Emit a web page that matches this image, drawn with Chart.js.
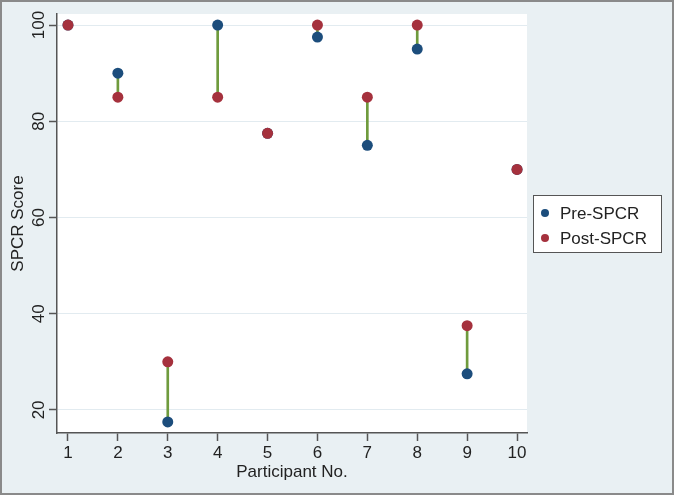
<!DOCTYPE html>
<html>
<head>
<meta charset="utf-8">
<script src="https://cdn.jsdelivr.net/npm/chart.js@4"></script>
<style>
  html, body { margin: 0; padding: 0; background: #e9f0f3; }
  #wrap { width: 674px; height: 495px; }
</style>
</head>
<body>
<div id="wrap"><canvas id="chSpcr" width="674" height="495"></canvas></div>
<script>
// data
var participants = [1, 2, 3, 4, 5, 6, 7, 8, 9, 10];
var preScores  = [100, 90, 17.5, 100, 77.5, 97.5, 75, 95, 27.5, 70];
var postScores = [100, 85, 30, 85, 77.5, 100, 85, 100, 37.5, 70];
var xTicks = [1, 2, 3, 4, 5, 6, 7, 8, 9, 10];
var yTicks = [20, 40, 60, 80, 100];

var colors = { pre: '#1c4d7c', post: '#a5313d', link: '#6f9b3d', text: '#222222', axis: '#555555' };
var fontFam = "'Liberation Sans', Arial, sans-serif";

// background, white plot region, outer frame
var frame = {
  id: 'frame',
  beforeDraw: function (chart) {
    var ctx = chart.ctx, a = chart.chartArea;
    ctx.save();
    ctx.fillStyle = '#e9f0f3';
    ctx.fillRect(0, 0, chart.width, chart.height);
    ctx.fillStyle = '#ffffff';
    ctx.fillRect(a.left, a.top, a.right - a.left, a.bottom - a.top);
    ctx.strokeStyle = '#8a8a8a';
    ctx.lineWidth = 2;
    ctx.strokeRect(1, 1, chart.width - 2, chart.height - 2);
    ctx.restore();
  }
};

// vertical y tick labels (stata style)
var yLabels = {
  id: 'yLabels',
  afterDraw: function (chart) {
    var ctx = chart.ctx, y = chart.scales.y;
    ctx.save();
    ctx.fillStyle = colors.text;
    ctx.font = '17px ' + fontFam;
    ctx.textAlign = 'center';
    ctx.textBaseline = 'middle';
    y.ticks.forEach(function (t) {
      ctx.save();
      ctx.translate(39, y.getPixelForValue(t.value));
      ctx.rotate(-Math.PI / 2);
      ctx.fillText(String(t.value), 0, 0);
      ctx.restore();
    });
    ctx.restore();
  }
};

// boxed legend on the right
var boxLegend = {
  id: 'boxLegend',
  afterDraw: function (chart) {
    var ctx = chart.ctx;
    var items = chart.data.datasets.filter(function (d) { return d.inLegend; });
    ctx.save();
    ctx.fillStyle = '#ffffff';
    ctx.fillRect(533.5, 195.5, 128, 57);
    ctx.strokeStyle = colors.axis;
    ctx.lineWidth = 1;
    ctx.strokeRect(533.5, 195.5, 128, 57);
    ctx.font = '17px ' + fontFam;
    ctx.textBaseline = 'middle';
    items.forEach(function (d, i) {
      var yy = 213 + i * 25;
      ctx.fillStyle = d.backgroundColor;
      ctx.beginPath();
      ctx.arc(545, yy, 4, 0, Math.PI * 2);
      ctx.fill();
      ctx.fillStyle = colors.text;
      ctx.fillText(d.label, 560, yy + 1);
    });
    ctx.restore();
  }
};

var linkData = participants.map(function (p, i) { return { x: p, y: [preScores[i], postScores[i]] }; });
var preData = participants.map(function (p, i) { return { x: p, y: preScores[i] }; });
var postData = participants.map(function (p, i) { return { x: p, y: postScores[i] }; });

new Chart(document.getElementById('chSpcr'), {
  type: 'scatter',
  data: {
    datasets: [
      { type: 'bar', label: 'change', data: linkData, backgroundColor: colors.link,
        barThickness: 2, borderWidth: 0, order: 3 },
      { label: 'Pre-SPCR', data: preData, backgroundColor: colors.pre, borderWidth: 0,
        pointRadius: 5.5, order: 2, inLegend: true },
      { label: 'Post-SPCR', data: postData, backgroundColor: colors.post, borderWidth: 0,
        pointRadius: 5.5, order: 1, inLegend: true }
    ]
  },
  options: {
    responsive: false,
    animation: false,
    layout: { padding: { top: 14, right: 147, bottom: 0, left: 0 } },
    plugins: { legend: { display: false }, tooltip: { enabled: false } },
    scales: {
      x: {
        type: 'linear', min: 0.78, max: 10.2, offset: false,
        afterBuildTicks: function (s) { s.ticks = xTicks.map(function (v) { return { value: v }; }); },
        afterFit: function (s) { s.height = 62; },
        grid: { drawOnChartArea: false, offset: false, tickLength: 8, tickColor: colors.axis, tickWidth: 1.5 },
        border: { color: colors.axis, width: 1.5 },
        ticks: { color: colors.text, font: { family: fontFam, size: 17 }, padding: 2, maxRotation: 0 },
        title: { display: true, text: 'Participant No.', color: colors.text,
          font: { family: fontFam, size: 17, lineHeight: 1.2 }, padding: { top: 0, bottom: 12 } }
      },
      y: {
        min: 15.2, max: 102.3,
        afterBuildTicks: function (s) { s.ticks = yTicks.map(function (v) { return { value: v }; }); },
        afterFit: function (s) { s.width = 57; },
        grid: { color: '#e2ebf0', lineWidth: 1, tickLength: 8, tickColor: colors.axis, tickWidth: 1.5 },
        border: { color: colors.axis, width: 1.5 },
        ticks: { color: 'rgba(0,0,0,0)', font: { family: fontFam, size: 17 } },
        title: { display: true, text: 'SPCR Score', color: colors.text,
          font: { family: fontFam, size: 17, lineHeight: 1.2 }, padding: { top: 8, bottom: 0 } }
      }
    }
  },
  plugins: [frame, yLabels, boxLegend]
});
</script>
</body>
</html>
